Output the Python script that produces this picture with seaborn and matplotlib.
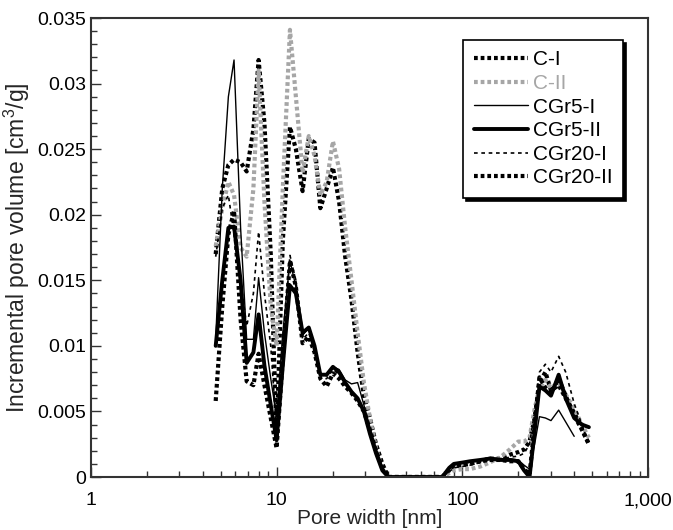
import numpy as np
import pandas as pd
import matplotlib
matplotlib.use("Agg")
import matplotlib.pyplot as plt
import matplotlib.ticker as mticker
import seaborn as sns

# pore width grid [nm]
pore_width = [4.7, 5.1, 5.5, 5.9, 6.4, 6.9, 7.5, 8.0, 8.6, 9.3, 10.0, 10.8, 11.8, 12.7,
              13.8, 14.9, 16.0, 17.2, 18.6, 20.1, 21.7, 23.4, 25.3, 27.3, 29.5, 31.8,
              34.3, 37.1, 40, 50, 60, 70, 78, 85, 90, 100, 110, 125, 140, 160, 180,
              200, 215, 230, 245, 260, 280, 300, 330, 360, 400, 440, 480]

# incremental pore volume [cm3/g]
c_1 = [0.0170, 0.0220, 0.0238, 0.0242, 0.0240, 0.0233, 0.0265, 0.0318, 0.0270, 0.0170,
       0.0030, 0.0180, 0.0267, 0.0250, 0.0218, 0.0258, 0.0255, 0.0205, 0.0220, 0.0236,
       0.0210, 0.0168, 0.0135, 0.0095, 0.0062, 0.0045, 0.0025, 0.0010, 0.0, 0.0, 0.0,
       0.0, 0.0, 0.0005, 0.0008, 0.0009, 0.0010, 0.0012, 0.0014, 0.0014, 0.0017, 0.0019,
       0.0021, 0.0027, 0.0045, 0.0072, 0.0080, 0.0066, 0.0070, 0.0060, 0.0049, 0.0037,
       0.0025]
c_2 = [0.0176, 0.0205, 0.0225, 0.0215, 0.0175, 0.0168, 0.0220, 0.0310, 0.0210, 0.0130,
       0.0100, 0.0220, 0.0341, 0.0290, 0.0232, 0.0260, 0.0245, 0.0215, 0.0225, 0.0256,
       0.0235, 0.0190, 0.0150, 0.0110, 0.0072, 0.0045, 0.0022, 0.0006, 0.0, 0.0, 0.0,
       0.0, 0.0, 0.0003, 0.0005, 0.0006, 0.0006, 0.0008, 0.0011, 0.0015, 0.0021, 0.0027,
       0.0027, 0.0030, 0.0052, 0.0068, 0.0074, 0.0068, 0.0072, 0.0063, 0.0052, 0.0040,
       0.0030]
cgr5_1 = [0.0105, 0.0220, 0.0290, 0.0318, 0.0190, 0.0105, 0.0105, 0.0152, 0.0110, 0.0075,
          0.0046, 0.0110, 0.0165, 0.0145, 0.0108, 0.0114, 0.0100, 0.0079, 0.0077, 0.0084,
          0.0082, 0.0074, 0.0071, 0.0072, 0.0055, 0.0038, 0.0022, 0.0008, 0.0, 0.0, 0.0,
          0.0, 0.0, 0.0006, 0.0009, 0.0011, 0.0012, 0.0013, 0.0015, 0.0014, 0.0014, 0.0013,
          0.0009, 0.0006, 0.0025, 0.0046, 0.0045, 0.0043, 0.0051, 0.0042, 0.0031, np.nan,
          np.nan]
cgr5_2 = [0.0100, 0.0150, 0.0190, 0.0191, 0.0150, 0.0087, 0.0095, 0.0124, 0.0085, 0.0055,
          0.0028, 0.0085, 0.0146, 0.0140, 0.0110, 0.0114, 0.0100, 0.0078, 0.0078, 0.0084,
          0.0080, 0.0072, 0.0065, 0.0060, 0.0050, 0.0033, 0.0018, 0.0005, 0.0, 0.0, 0.0,
          0.0, 0.0, 0.0007, 0.0010, 0.0011, 0.0012, 0.0013, 0.0014, 0.0013, 0.0013, 0.0012,
          0.0005, 0.0, 0.0035, 0.0069, 0.0066, 0.0062, 0.0078, 0.0060, 0.0045, 0.0040,
          0.0038]
cgr20_1 = [0.0168, 0.0205, 0.0215, 0.0185, 0.0150, 0.0115, 0.0140, 0.0187, 0.0140, 0.0100,
           0.0035, 0.0100, 0.0169, 0.0150, 0.0105, 0.0110, 0.0095, 0.0075, 0.0075, 0.0082,
           0.0078, 0.0070, 0.0065, 0.0060, 0.0050, 0.0035, 0.0020, 0.0007, 0.0, 0.0, 0.0,
           0.0, 0.0, 0.0004, 0.0007, 0.0008, 0.0009, 0.0011, 0.0013, 0.0014, 0.0015, 0.0016,
           0.0018, 0.0025, 0.0050, 0.0080, 0.0086, 0.0080, 0.0092, 0.0080, 0.0056, 0.0040,
           0.0024]
cgr20_2 = [0.0058, 0.0130, 0.0185, 0.0203, 0.0120, 0.0073, 0.0070, 0.0094, 0.0070, 0.0045,
           0.0022, 0.0090, 0.0165, 0.0145, 0.0102, 0.0107, 0.0095, 0.0075, 0.0069, 0.0079,
           0.0075, 0.0069, 0.0064, 0.0058, 0.0050, 0.0036, 0.0020, 0.0007, 0.0, 0.0, 0.0,
           0.0, 0.0, 0.0006, 0.0009, 0.0010, 0.0011, 0.0012, 0.0013, 0.0013, 0.0012, 0.0012,
           0.0006, 0.0002, 0.0040, 0.0076, 0.0068, 0.0064, 0.0075, 0.0062, 0.0047, 0.0036,
           0.0025]

y_ticks = [0, 0.005, 0.01, 0.015, 0.02, 0.025, 0.03, 0.035]
y_labels = ["0", "0.005", "0.01", "0.015", "0.02", "0.025", "0.03", "0.035"]
x_ticks = [1, 10, 100, 1000]
x_labels = ["1", "10", "100", "1,000"]

sns.set_style("white")
plt.rcParams['font.family'] = ['Liberation Sans', 'DejaVu Sans']
plt.rcParams['mathtext.fontset'] = 'custom'
plt.rcParams['mathtext.rm'] = 'Liberation Sans'

fig = plt.figure(figsize=(6.73, 5.30), dpi=100)
ax = fig.add_axes([0.135, 0.1, 0.828, 0.866])

series = [
    ("C-I", c_1, dict(color="black", lw=3.0, ls=(0, (0.9, 0.7)))),
    ("C-II", c_2, dict(color="#a6a6a6", lw=3.0, ls=(0, (0.9, 0.7)))),
    ("CGr5-I", cgr5_1, dict(color="black", lw=1.0, ls="-")),
    ("CGr5-II", cgr5_2, dict(color="black", lw=2.8, ls="-")),
    ("CGr20-I", cgr20_1, dict(color="black", lw=1.2, ls=(0, (2.2, 2.2)))),
    ("CGr20-II", cgr20_2, dict(color="black", lw=3.0, ls=(0, (0.9, 0.7)))),
]

for name, vals, st in series:
    df = pd.DataFrame({"w": pore_width, "v": vals}).dropna()
    sns.lineplot(data=df, x="w", y="v", ax=ax, label=name, color=st["color"],
                 linewidth=st["lw"], linestyle=st["ls"], dash_capstyle="butt")

ax.set_xscale("log")
ax.set_xlim(1, 1000)
ax.set_ylim(0, 0.035)
ax.xaxis.set_major_locator(mticker.FixedLocator(x_ticks))
ax.xaxis.set_major_formatter(mticker.FixedFormatter(x_labels))
ax.xaxis.set_minor_locator(mticker.LogLocator(base=10, subs=np.arange(2, 10)))
ax.xaxis.set_minor_formatter(mticker.NullFormatter())
ax.yaxis.set_major_locator(mticker.FixedLocator(y_ticks))
ax.yaxis.set_major_formatter(mticker.FixedFormatter(y_labels))
ax.yaxis.set_minor_locator(mticker.MultipleLocator(0.001))

ax.tick_params(which="both", direction="in", bottom=True, left=True, top=False, right=False,
               colors="#333333", labelcolor="black", labelsize=14)
ax.tick_params(which="major", length=7, width=1)
ax.tick_params(which="minor", length=4, width=1)
ax.tick_params(axis="x", which="major", pad=11)
for sp in ax.spines.values():
    sp.set_color("#333333")
    sp.set_linewidth(1.5)

ax.set_xlabel("Pore width [nm]", fontsize=15, labelpad=0)
ax.set_ylabel("Incremental pore volume [cm$^3$/g]", fontsize=16.5, labelpad=4)

leg = ax.legend(loc="upper right", bbox_to_anchor=(0.955, 0.952), borderaxespad=0,
                fontsize=15, frameon=True, fancybox=False, handlelength=2.6,
                handletextpad=0.25, labelspacing=0.22, borderpad=0.5,
                shadow={"color": "black", "alpha": 1.0})
leg.get_frame().set_edgecolor("black")
leg.get_frame().set_linewidth(1.2)
for txt, (name, vals, st) in zip(leg.get_texts(), series):
    txt.set_color(st["color"])

fig.savefig("out.png", dpi=100)
